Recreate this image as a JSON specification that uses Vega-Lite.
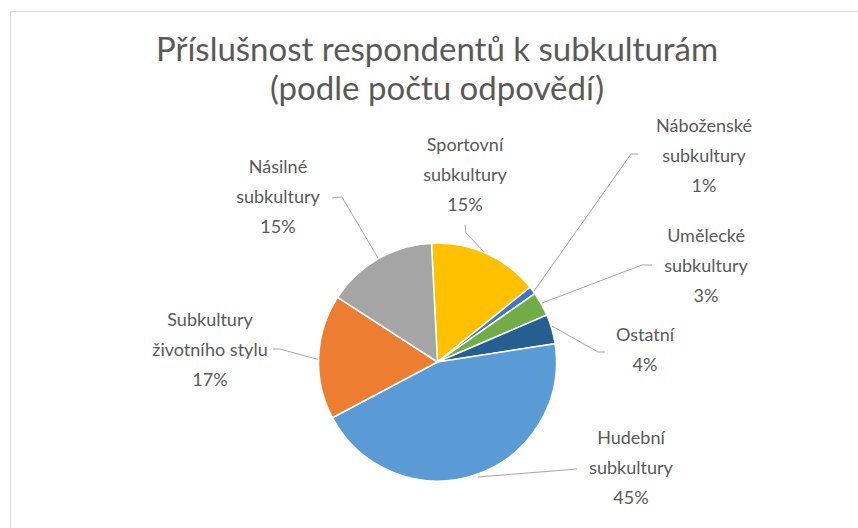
{
  "$schema": "https://vega.github.io/schema/vega-lite/v6.json",
  "width": 848,
  "height": 517,
  "autosize": {"type": "none"},
  "padding": {"left": 10, "top": 11, "right": 0, "bottom": 0},
  "background": "white",
  "title": {
    "text": ["Příslušnost respondentů k subkulturám", "(podle počtu odpovědí)"],
    "font": "Lato",
    "fontSize": 33,
    "fontWeight": "normal",
    "color": "#595959",
    "lineHeight": 39,
    "anchor": "middle",
    "frame": "group",
    "dx": 3,
    "offset": -96
  },
  "config": {"view": {"stroke": "#D9D9D9", "strokeWidth": 1}},
  "datasets": {
    "slices": [
      {"category": "Sportovní subkultury", "value": 15.0, "order": 1},
      {"category": "Náboženské subkultury", "value": 1.05, "order": 2},
      {"category": "Umělecké subkultury", "value": 3.3, "order": 3},
      {"category": "Ostatní", "value": 4.0, "order": 4},
      {"category": "Hudební subkultury", "value": 44.7, "order": 5},
      {"category": "Subkultury životního stylu", "value": 16.9, "order": 6},
      {"category": "Násilné subkultury", "value": 15.05, "order": 7}
    ],
    "labels": [
      {"category": "Sportovní subkultury", "label": "Sportovní\nsubkultury\n15%", "dx": 27.5, "dy": 216},
      {"category": "Náboženské subkultury", "label": "Náboženské\nsubkultury\n1%", "dx": 266.5, "dy": 235},
      {"category": "Umělecké subkultury", "label": "Umělecké\nsubkultury\n3%", "dx": 268.5, "dy": 125},
      {"category": "Ostatní", "label": "Ostatní\n4%", "dx": 207.5, "dy": 26},
      {"category": "Hudební subkultury", "label": "Hudební\nsubkultury\n45%", "dx": 193.5, "dy": -77},
      {"category": "Subkultury životního stylu", "label": "Subkultury\nživotního stylu\n17%", "dx": -227.5, "dy": 41},
      {"category": "Násilné subkultury", "label": "Násilné\nsubkultury\n15%", "dx": -159.5, "dy": 194}
    ],
    "leaders": [
      {"category": "Sportovní subkultury", "k": 1, "dx": 27.5, "dy": 137},
      {"category": "Sportovní subkultury", "k": 2, "dx": 28.5, "dy": 129},
      {"category": "Sportovní subkultury", "k": 3, "dx": 49.5, "dy": 107},
      {"category": "Náboženské subkultury", "k": 1, "dx": 200.5, "dy": 208},
      {"category": "Náboženské subkultury", "k": 2, "dx": 193.5, "dy": 208},
      {"category": "Náboženské subkultury", "k": 3, "dx": 96.5, "dy": 71},
      {"category": "Umělecké subkultury", "k": 1, "dx": 214.5, "dy": 97},
      {"category": "Umělecké subkultury", "k": 2, "dx": 204.5, "dy": 97},
      {"category": "Umělecké subkultury", "k": 3, "dx": 104.5, "dy": 59},
      {"category": "Ostatní", "k": 1, "dx": 167.5, "dy": 10},
      {"category": "Ostatní", "k": 2, "dx": 160.5, "dy": 10},
      {"category": "Ostatní", "k": 3, "dx": 114.5, "dy": 36},
      {"category": "Hudební subkultury", "k": 1, "dx": 139.5, "dy": -107},
      {"category": "Hudební subkultury", "k": 2, "dx": 40.5, "dy": -115},
      {"category": "Subkultury životního stylu", "k": 1, "dx": -164.5, "dy": 13},
      {"category": "Subkultury životního stylu", "k": 2, "dx": -157.5, "dy": 13},
      {"category": "Subkultury životního stylu", "k": 3, "dx": -117.5, "dy": 2},
      {"category": "Násilné subkultury", "k": 1, "dx": -105.5, "dy": 164},
      {"category": "Násilné subkultury", "k": 2, "dx": -95.5, "dy": 165},
      {"category": "Násilné subkultury", "k": 3, "dx": -59.5, "dy": 104}
    ]
  },
  "layer": [
    {
      "data": {"name": "leaders"},
      "mark": {"type": "line", "color": "#A6A6A6", "strokeWidth": 1},
      "encoding": {
        "x": {"field": "dx", "type": "quantitative", "scale": {"domain": [-427.5, 420.5], "nice": false, "zero": false}, "axis": null},
        "y": {"field": "dy", "type": "quantitative", "scale": {"domain": [-166, 351], "nice": false, "zero": false}, "axis": null},
        "detail": {"field": "category", "type": "nominal"},
        "order": {"field": "k", "type": "quantitative"}
      }
    },
    {
      "data": {"name": "slices"},
      "mark": {
        "type": "arc",
        "outerRadius": 119,
        "stroke": "white",
        "strokeWidth": 1.5,
        "x": {"expr": "scale('x', 0)"},
        "y": {"expr": "scale('y', 0)"}
      },
      "encoding": {
        "theta": {"field": "value", "type": "quantitative", "stack": true, "scale": {"range": [-0.0506, 6.2326]}},
        "color": {
          "field": "category",
          "type": "nominal",
          "scale": {
            "domain": ["Sportovní subkultury", "Náboženské subkultury", "Umělecké subkultury", "Ostatní", "Hudební subkultury", "Subkultury životního stylu", "Násilné subkultury"],
            "range": ["#FFC000", "#4472C4", "#70AD47", "#255E91", "#5B9BD5", "#ED7D31", "#A5A5A5"]
          },
          "legend": null
        },
        "order": {"field": "order", "type": "quantitative"}
      }
    },
    {
      "data": {"name": "labels"},
      "mark": {
        "type": "text",
        "font": "Lato",
        "fontSize": 18,
        "color": "#595959",
        "lineBreak": "\n",
        "lineHeight": 30,
        "align": "center",
        "baseline": "middle"
      },
      "encoding": {
        "x": {"field": "dx", "type": "quantitative", "scale": {"domain": [-427.5, 420.5], "nice": false, "zero": false}, "axis": null},
        "y": {"field": "dy", "type": "quantitative", "scale": {"domain": [-166, 351], "nice": false, "zero": false}, "axis": null},
        "text": {"field": "label", "type": "nominal"}
      }
    }
  ]
}
